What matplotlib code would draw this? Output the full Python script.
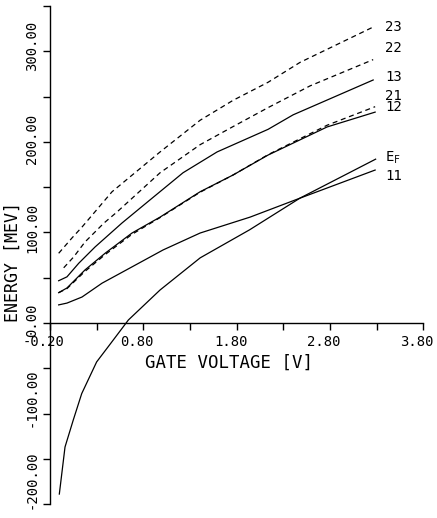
import matplotlib
matplotlib.use("Agg")
import matplotlib.pyplot as plt
import matplotlib.transforms as mtransforms

# ---- data (gate voltage [V], energy [meV]) ----
v23 = [-0.107, 0.036, 0.143, 0.465, 0.98, 1.409, 1.762, 2.138, 2.481, 3.264]
e23 = [77, 94, 106, 145, 189, 224, 246, 266, 288, 327]

v22 = [-0.053, 0.054, 0.175, 0.379, 0.519, 0.98, 1.409, 1.762, 2.138, 2.588, 3.264]
e22 = [61, 73, 89.5, 110.5, 122.7, 166, 197, 217, 238, 262, 291]

v13 = [-0.107, -0.018, 0.108, 0.283, 0.572, 0.872, 1.226, 1.591, 2.138, 2.406, 3.264]
e13 = [46.7, 51, 66, 84, 110.5, 136, 166, 189, 214, 230, 268.5]

v12 = [-0.107, -0.018, 0.175, 0.39, 0.679, 0.98, 1.409, 1.762, 2.138, 2.770, 3.285]
e12 = [33.5, 38.7, 58.6, 77, 99.4, 117, 145, 163.5, 185.6, 216.6, 233]

v21 = v12
e21 = [33.5, 38.0, 57.0, 75.5, 98.0, 116.5, 144.5, 163.5, 186, 218.5, 239]

v11 = [-0.107, -0.018, 0.143, 0.358, 0.679, 1.012, 1.409, 1.945, 2.481, 3.285]
e11 = [20, 22, 28.7, 44, 62, 80.7, 99.4, 117, 138, 169]

vef = [-0.1, -0.039, 0.05, 0.14, 0.30, 0.44, 0.64, 0.98, 1.41, 1.94, 2.48, 3.29]
eef = [-189, -137, -107, -78, -43, -24, 3.3, 36.5, 72, 103, 138, 181]

curve_labels = ["23", "22", "13", "21", "12", r"E$_{\mathrm{F}}$", "11"]
label_e = [327, 304, 272, 251, 239, 183, 162]

xticks = [-0.2, 0.8, 1.8, 2.8, 3.8]
xminor = [0.3, 1.3, 2.3, 3.3]
yticks = [-200, -100, 0, 100, 200, 300]
yminor = [-150, -50, 50, 150, 250, 350]
# plotter put the rotated labels a bit above their ticks (pixels)
ylabel_shift = [24, 16, 3, 5, 3, 6]

plt.rcParams['font.family'] = ['DejaVu Sans Mono']
plt.rcParams['mathtext.fontset'] = 'custom'
plt.rcParams['mathtext.rm'] = 'DejaVu Sans Mono'

fig = plt.figure(figsize=(4.37, 5.18), dpi=100)
ax = fig.add_axes([0.1144, 0.027, 0.854, 0.961])

lw = 0.9
ax.plot(v23, e23, color='black', lw=lw, ls=(0, (4, 3)))
ax.plot(v22, e22, color='black', lw=lw, ls=(0, (4, 3)))
ax.plot(v13, e13, color='black', lw=lw)
ax.plot(v21, e21, color='black', lw=lw, ls=(0, (4, 3)))
ax.plot(v12, e12, color='black', lw=lw)
ax.plot(v11, e11, color='black', lw=lw)
ax.plot(vef, eef, color='black', lw=lw)

for lab, ey in zip(curve_labels, label_e):
    ax.text(3.39, ey, lab, fontsize=10, ha='left', va='center')

ax.set_xlim(-0.2, 3.8)
ax.set_ylim(-200, 350)

for s in ['top', 'right']:
    ax.spines[s].set_visible(False)
ax.spines['bottom'].set_position(('data', 0))
ax.spines['left'].set_linewidth(1.0)
ax.spines['bottom'].set_linewidth(1.0)

ax.set_xticks(xticks)
ax.set_xticklabels([f"{t:.2f}" for t in xticks])
ax.set_xticks(xminor, minor=True)
ax.set_yticks(yticks)
ax.set_yticklabels([f"{t:.2f}" for t in yticks])
ax.set_yticks(yminor, minor=True)

ax.tick_params(axis='both', which='both', direction='out', length=5, width=1.0, labelsize=10)
ax.tick_params(axis='x', pad=4)
ax.tick_params(axis='y', pad=3, labelrotation=90)
for lab, sh in zip(ax.get_yticklabels(), ylabel_shift):
    lab.set_va('center')
    lab.set_transform(lab.get_transform() + mtransforms.ScaledTranslation(0, sh / 100, fig.dpi_scale_trans))

# plotter labels sit a little left of their ticks
offset = mtransforms.ScaledTranslation(-6 / 100, 0, fig.dpi_scale_trans)
for lab in ax.get_xticklabels():
    lab.set_transform(lab.get_transform() + offset)

ax.set_xlabel("GATE VOLTAGE [V]", fontsize=12.5, va='center')
ax.xaxis.set_label_coords(0.48, 0.283)
ax.set_ylabel("ENERGY [MEV]", fontsize=12, va='center')
ax.yaxis.set_label_coords(-0.099, 0.486)

fig.savefig("out.png", dpi=100)
